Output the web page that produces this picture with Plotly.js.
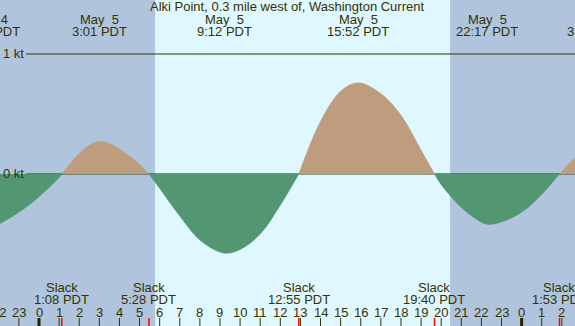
<!DOCTYPE html>
<html>
<head>
<meta charset="utf-8">
<script src="https://cdn.plot.ly/plotly-3.0.1.min.js"></script>
<style>html,body{margin:0;padding:0;background:#b0c4de;}#chart{width:575px;height:326px;}</style>
</head>
<body>
<div id="chart"></div>
<script>
// ---- data (hours since May 5 00:00 PDT, current in knots) ----
const hours  = [-2, -1, 0, 1, 1.133, 2, 2.5, 3.017, 3.5, 4, 5, 5.467, 6, 7, 8, 9.2, 10, 11, 12, 12.917, 14, 15, 15.867, 17, 18, 19, 19.667, 20, 21, 21.6, 22.283, 23, 24, 25, 25.883, 26.5, 27];
const knots  = [-0.42, -0.32, -0.19, -0.03, 0, 0.17, 0.24, 0.27, 0.255, 0.21, 0.08, 0, -0.12, -0.35, -0.55, -0.66, -0.63, -0.50, -0.26, 0, 0.44, 0.69, 0.76, 0.67, 0.49, 0.20, 0, -0.09, -0.28, -0.36, -0.42, -0.40, -0.32, -0.17, 0, 0.11, 0.19];

const eventHours = [-2.5, 3.017, 9.2, 15.867, 22.283, 27.63];
const eventDates = ["May\u00a0\u00a04", "May\u00a0\u00a05", "May\u00a0\u00a05", "May\u00a0\u00a05", "May\u00a0\u00a05", "May\u00a0\u00a06"];
const eventTimes = ["21:30 PDT", "3:01 PDT", "9:12 PDT", "15:52 PDT", "22:17 PDT", "3:38 PDT"];

const slackHours = [1.133, 5.467, 12.917, 19.667, 25.883];
const slackTimes = ["1:08 PDT", "5:28 PDT", "12:55 PDT", "19:40 PDT", "1:53 PDT"];

const tickHours  = [-2, -1, 0, 1, 2, 3, 4, 5, 6, 7, 8, 9, 10, 11, 12, 13, 14, 15, 16, 17, 18, 19, 20, 21, 22, 23, 24, 25, 26];
const tickLabels = ["22", "23", "0", "1", "2", "3", "4", "5", "6", "7", "8", "9", "10", "11", "12", "13", "14", "15", "16", "17", "18", "19", "20", "21", "22", "23", "0", "1", "2"];
const midnights  = [0, 24];

const sunrise = 5.77, sunset = 20.44;
const titleText = "Alki Point, 0.3 mile west of, Washington Current";
const levelValues = [0, 1];
const levelLabels = ["0 kt", "1 kt"];

// ---- styling ----
const W = 575, H = 326;
const xr = [-1.94, 26.654];
const yr = [-1.267, 1.45];
const dark = '#b0c4de', light = '#dff7ff';
const flood = '#bd9d7d', ebb = '#529672';
const ink = '#333300';
const fontFam = '"Liberation Sans", Arial, sans-serif';

const px = h => (h - xr[0]) / (xr[1] - xr[0]);
const py = p => 1 - p / H;
const yv = v => (v - yr[0]) / (yr[1] - yr[0]);

// split curve into flood/ebb segments at slack (zero) points
const traces = [];
let seg = {x: [], y: []};
for (let i = 0; i < hours.length; i++) {
  seg.x.push(hours[i]); seg.y.push(knots[i]);
  if (knots[i] === 0 && seg.x.length > 1) {
    traces.push(seg);
    seg = {x: [hours[i]], y: [knots[i]]};
  }
}
if (seg.x.length > 1) traces.push(seg);

const data = traces.map(s => {
  const pos = s.y.reduce((a, b) => a + b, 0) > 0;
  const c = pos ? flood : ebb;
  return {x: s.x, y: s.y, type: 'scatter', mode: 'lines', fill: 'tozeroy',
          fillcolor: c, line: {color: c, width: 0.5, shape: 'spline', smoothing: 1},
          hoverinfo: 'skip', showlegend: false};
});

const shapes = [];
shapes.push({type: 'rect', xref: 'x', yref: 'paper', x0: sunrise, x1: sunset, y0: 0, y1: 1, fillcolor: light, line: {width: 0}, layer: 'below'});
levelValues.forEach(v => shapes.push({type: 'line', xref: 'paper', yref: 'y', x0: 26 / W, x1: 1, y0: v, y1: v, line: {color: ink, width: 1}, layer: 'below'}));
tickHours.forEach(h => shapes.push({type: 'line', xref: 'x', yref: 'paper', x0: h, x1: h, y0: 0, y1: py(318), line: {color: ink, width: 1}}));
midnights.forEach(h => shapes.push({type: 'line', xref: 'x', yref: 'paper', x0: h, x1: h, y0: 0, y1: py(318), line: {color: '#222200', width: 3}}));
slackHours.forEach(h => shapes.push({type: 'line', xref: 'x', yref: 'paper', x0: h, x1: h, y0: 0, y1: py(318), line: {color: '#ff0000', width: 1.5}}));

const ann = [];
const txt = (text, x, y, xanchor) => ({text, xref: 'paper', yref: 'paper', x, y, xanchor: xanchor || 'center', yanchor: 'middle', showarrow: false, borderpad: 0, font: {family: fontFam, size: 13, color: ink}});
ann.push(txt(titleText, 286.5 / W, py(7)));
eventHours.forEach((h, i) => { ann.push(txt(eventDates[i], px(h), py(19))); ann.push(txt(eventTimes[i], px(h), py(31))); });
slackHours.forEach((h, i) => { ann.push(txt('Slack', px(h), py(287))); ann.push(txt(slackTimes[i], px(h), py(299))); });
tickHours.forEach((h, i) => ann.push(txt(tickLabels[i], px(h), py(312))));
levelValues.forEach((v, i) => ann.push(txt(levelLabels[i], 2 / W, yv(v), 'left')));

const layout = {
  width: W, height: H, margin: {l: 0, r: 0, t: 0, b: 0},
  paper_bgcolor: dark, plot_bgcolor: dark,
  xaxis: {range: xr, visible: false, fixedrange: true},
  yaxis: {range: yr, visible: false, fixedrange: true},
  shapes, annotations: ann, showlegend: false
};
Plotly.newPlot('chart', data, layout, {staticPlot: true, displayModeBar: false});
</script>
</body>
</html>
